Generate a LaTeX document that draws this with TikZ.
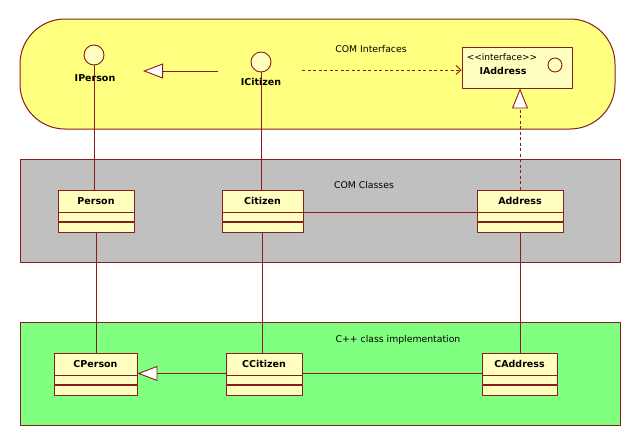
\documentclass[tikz,border=0pt]{standalone}
\usepackage{fontspec}
\setmainfont{DejaVu Sans}
\usetikzlibrary{arrows.meta, positioning}

\definecolor{umlline}{HTML}{8A1C1C}
\definecolor{classfill}{HTML}{FFFFC0}
\definecolor{ifcyellow}{HTML}{FFFF80}
\definecolor{comgray}{HTML}{C0C0C0}
\definecolor{cppgreen}{HTML}{80FF80}

\tikzset{
  region/.style={draw=umlline, line width=1pt, inner sep=0pt},
  regionlabel/.style={font=\fontsize{9.3}{11}\selectfont, inner sep=0pt},
  classhead/.style={draw=umlline, fill=classfill, line width=0.9pt, inner sep=0pt,
    minimum height=22pt, font=\fontsize{9.5}{11}\selectfont\bfseries},
  classcomp/.style={draw=umlline, fill=classfill, line width=0.9pt, inner sep=0pt},
  ifcball/.style={circle, draw=umlline, fill=classfill, line width=0.9pt, inner sep=0pt},
  ifclabel/.style={font=\fontsize{9.5}{11}\selectfont\bfseries, inner sep=0pt},
  assoc/.style={draw=umlline, line width=0.9pt},
  generalize/.style={assoc, -{Triangle[open, fill=white, length=20pt, width=15pt]}},
  depend/.style={assoc, dash pattern=on 3pt off 2.5pt, -{Straight Barb[length=5pt, width=9pt]}},
  realize/.style={assoc, dash pattern=on 3pt off 2.5pt, -{Triangle[open, fill=white, length=20pt, width=16pt]}}
}

% class box: name, label, position, width
\newcommand{\umlclass}[4]{%
  \node[classhead, minimum width=#4] (#1) at (#3) {#2};
  \node[classcomp, minimum width=#4, minimum height=8.5pt, below=0pt of #1] (#1-a) {};
  \node[classcomp, minimum width=#4, minimum height=10pt, below=0pt of #1-a] (#1-b) {};
}

\begin{document}
\begin{tikzpicture}[x=1pt, y=-1pt, line join=round]
  \useasboundingbox[fill=white] (0,0) rectangle (640,445);

  % Regions
  \node[region, fill=ifcyellow, minimum width=595pt, minimum height=110pt,
    rounded corners=45pt] (comifc) at (317.5,74) {};
  \node[region, fill=comgray, minimum width=600pt, minimum height=103pt] (comcls) at (320,210.5) {};
  \node[region, fill=cppgreen, minimum width=600pt, minimum height=103pt] (cppimpl) at (320,373.5) {};
  \node[regionlabel] (comifc-lbl) at (371,49) {COM Interfaces};
  \node[regionlabel] (comcls-lbl) at (364,185) {COM Classes};
  \node[regionlabel] (cppimpl-lbl) at (398,340) {C++ class implementation};

  % COM interfaces
  \node[ifcball, minimum size=20pt] (iperson) at (94,55) {};
  \node[ifcball, minimum size=20pt] (icitizen) at (261,62) {};
  \node[classcomp, minimum width=110pt, minimum height=41pt] (iaddress) at (517,67.5) {};
  \node[font=\fontsize{9}{11}\selectfont, inner sep=0pt] (iaddress-st) at (502,57)
    {<\kern0pt<interface>\kern0pt>};
  \node[ifclabel] (iaddress-name) at (503,71) {IAddress};
  \node[ifcball, minimum size=14pt] (iaddress-ball) at (555,65) {};

  % COM classes
  \umlclass{person}{Person}{96,201}{76pt}
  \umlclass{citizen}{Citizen}{262.5,201}{81pt}
  \umlclass{address}{Address}{520,201}{86pt}

  % C++ classes
  \umlclass{cperson}{CPerson}{95.5,364}{83pt}
  \umlclass{ccitizen}{CCitizen}{264,364}{76pt}
  \umlclass{caddress}{CAddress}{519.5,364}{75pt}

  % Connectors
  \draw[assoc] (iperson.south) -- (iperson.south |- person.north);
  \draw[assoc] (icitizen.south) -- (icitizen.south |- citizen.north);
  \node[ifclabel] (iperson-lbl) at (95,78) {IPerson};
  \node[ifclabel] (icitizen-lbl) at (261,82) {ICitizen};

  \coordinate (gen-start) at (218,71);
  \coordinate (gen-end) at (143,71);
  \draw[generalize] (gen-start) -- (gen-end);
  \coordinate (dep-start) at (302,70);
  \draw[depend] (dep-start) -- (dep-start -| iaddress.west);
  \draw[realize] (address.north) -- (address.north |- iaddress.south);

  \draw[assoc] (citizen.south east) -- (address.south west);
  \draw[assoc] (person-b.south) -- (person-b.south |- cperson.north);
  \draw[assoc] (citizen-b.south) -- (citizen-b.south |- ccitizen.north);
  \draw[assoc] (address-b.south) -- (address-b.south |- caddress.north);

  \draw[assoc] ([yshift=2pt]ccitizen.south east) -- ([yshift=2pt]caddress.south west);
  \draw[generalize] ([yshift=2pt]ccitizen.south west) -- ([yshift=2pt]cperson.south east);
\end{tikzpicture}
\end{document}
